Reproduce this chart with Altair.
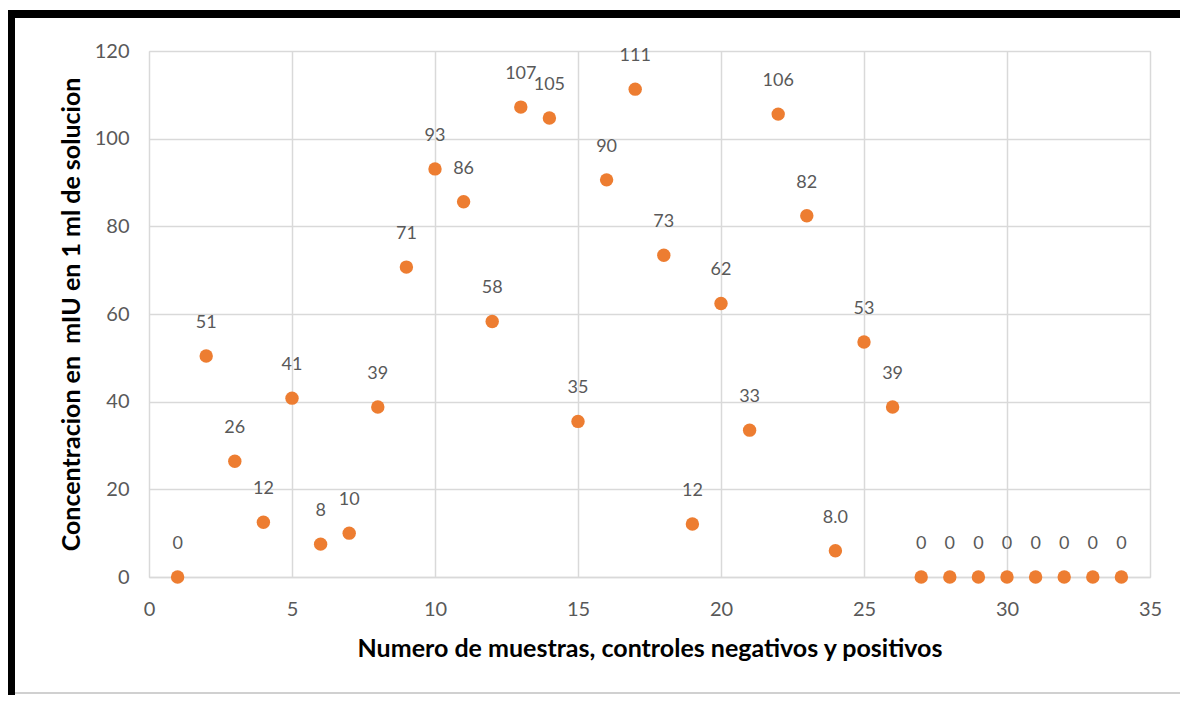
import altair as alt
import pandas as pd

muestra = list(range(1, 35))
concentracion = [0, 50.4, 26.4, 12.5, 40.8, 7.5, 10.0, 38.8, 70.7, 93.1, 85.6, 58.3,
                 107.2, 104.7, 35.5, 90.6, 111.3, 73.4, 12.1, 62.4, 33.5, 105.6, 82.4,
                 6.0, 53.6, 38.8, 0, 0, 0, 0, 0, 0, 0, 0]
etiquetas = ["0", "51", "26", "12", "41", "8", "10", "39", "71", "93", "86", "58",
             "107", "105", "35", "90", "111", "73", "12", "62", "33", "106", "82",
             "8.0", "53", "39", "0", "0", "0", "0", "0", "0", "0", "0"]

x_ticks = [0, 5, 10, 15, 20, 25, 30, 35]
y_ticks = [0, 20, 40, 60, 80, 100, 120]

x_title = "Numero de muestras, controles negativos y positivos"
y_title = "Concentracion en \u00a0mIU en 1 ml de solucion"

df = pd.DataFrame({"x": muestra, "y": concentracion, "label": etiquetas})

FONT = "Lato"
W, H = 1001, 526

xenc = alt.X("x:Q", scale=alt.Scale(domain=[0, 35], nice=False),
             axis=alt.Axis(values=x_ticks, title=x_title, labelFlush=False,
                           grid=True, ticks=False, domain=True, domainColor="#D9D9D9",
                           domainWidth=1.5, gridColor="#D9D9D9", gridWidth=1.5,
                           labelFontSize=20, labelColor="#595959", labelFont=FONT,
                           labelPadding=22, titleFontSize=25, titleFont=FONT,
                           titleFontWeight="bold", titleColor="#000000", titlePadding=17))
yenc = alt.Y("y:Q", scale=alt.Scale(domain=[0, 120], nice=False),
             axis=alt.Axis(values=y_ticks, title=y_title, labelFlush=False,
                           grid=True, ticks=False, domain=False,
                           gridColor="#D9D9D9", gridWidth=1.5,
                           labelFontSize=20, labelColor="#595959", labelFont=FONT,
                           labelPadding=20, titleFontSize=25, titleFont=FONT,
                           titleFontWeight="bold", titleColor="#000000", titlePadding=10))

points = alt.Chart(df).mark_circle(size=180, opacity=1, color="#ED7D31").encode(x=xenc, y=yenc)

labels = alt.Chart(df).mark_text(dy=-33, fontSize=18, font=FONT, color="#595959",
                                 baseline="middle").encode(x="x:Q", y="y:Q", text="label:N")

# decorative frame (black left/top)
frame_top = alt.Chart(df.head(1)).mark_rule(color="black", strokeWidth=8).encode(
    x=alt.value(-142), x2=alt.value(1060), y=alt.value(-37), y2=alt.value(-37))
frame_left = alt.Chart(df.head(1)).mark_rule(color="black", strokeWidth=8).encode(
    x=alt.value(-138), x2=alt.value(-138), y=alt.value(-41), y2=alt.value(680))
frame_bottom = alt.Chart(df.head(1)).mark_rule(color="#D0D0D0", strokeWidth=2).encode(
    x=alt.value(-134), x2=alt.value(1060), y=alt.value(642), y2=alt.value(642))

chart = alt.layer(points, labels, frame_top, frame_left, frame_bottom).properties(
    width=W, height=H,
    autosize=alt.AutoSizeParams(type="none"),
    padding={"left": 141, "top": 43, "right": 30, "bottom": 118},
).configure_view(stroke=None).configure(background="white")

chart.save("out.html", embed_options={"renderer": "svg", "actions": False})
